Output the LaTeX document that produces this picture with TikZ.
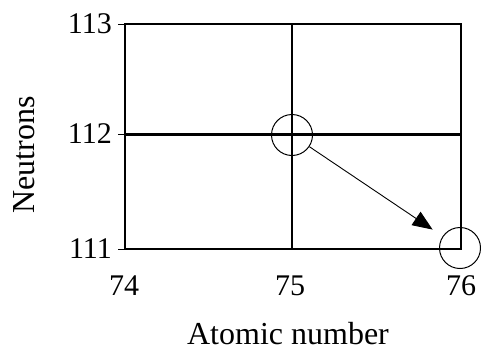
\documentclass[tikz,border=0pt]{standalone}
\usepackage{fontspec}
\setmainfont{Liberation Serif}
\usetikzlibrary{arrows.meta}
\begin{document}
\begin{tikzpicture}[x=1pt,y=-1pt,
  axisline/.style={line width=2.4pt},
  num/.style={font=\fontsize{30}{30}\selectfont, inner sep=0pt},
  lab/.style={font=\fontsize{32}{32}\selectfont, inner sep=0pt},
  ring/.style={circle, draw, line width=1pt, minimum size=41pt, inner sep=0pt},
  decay/.style={line width=0.9pt, -{Triangle[length=20pt,width=16pt]}}]
\useasboundingbox (0,0) rectangle (481,351);
% grid box
\draw[axisline] (125,24) rectangle (461,249);
\draw[axisline] (292,24) -- (292,249);
\draw[axisline] (125,134.5) -- (461,134.5);
% ticks
\draw[line width=1pt] (118,24) -- (125,24);
\draw[line width=1pt] (118,134.5) -- (125,134.5);
\draw[line width=1pt] (118,249) -- (125,249);
% y labels
\node[num, anchor=east] (y113) at (112,24) {113};
\node[num, anchor=east] (y112) at (112,134) {112};
\node[num, anchor=east] (y111) at (112,249) {111};
% x labels
\node[num] (x74) at (124,286) {74};
\node[num] (x75) at (290,286) {75};
\node[num] (x76) at (461,286) {76};
% axis titles
\node[lab, rotate=90] (ytitle) at (24,155) {Neutrons};
\node[lab, text depth=0pt, anchor=base] (xtitle) at (288,344) {Atomic number};
% circles
\node[ring] (c1) at (292,135) {};
\node[ring] (c2) at (460,248) {};
\draw[decay, shorten >=12pt] (c1) -- (c2);
\end{tikzpicture}
\end{document}
